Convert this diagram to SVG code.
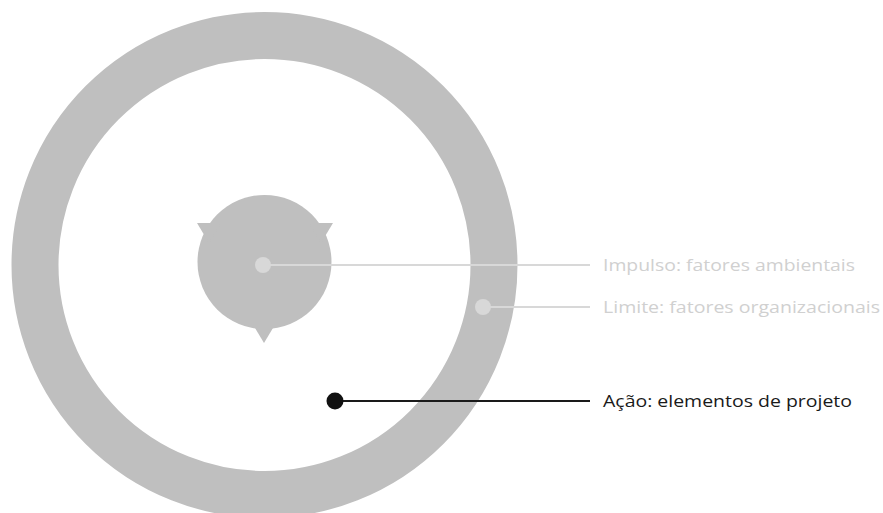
<svg xmlns="http://www.w3.org/2000/svg" width="883" height="513" viewBox="0 0 883 513">
<style>
.shape{fill:#bfbfbf}
.gline{stroke:#d8d8d8;stroke-width:2;fill:none}
.kline{stroke:#1a1a1a;stroke-width:2;fill:none}
.gdot{fill:#d8d8d8}
.kdot{fill:#111111}
.lbl{font-family:"Open Sans","Noto Sans","Liberation Sans",sans-serif;font-size:17px}
.glbl{fill:#d0d0d0}
.klbl{fill:#1a1a1a}
</style>
<rect width="883" height="513" fill="#ffffff"/>
<g id="limite">
<circle cx="264.5" cy="265" r="229.5" fill="none" stroke="#bfbfbf" stroke-width="47"/>
</g>
<g id="impulso">
<circle class="shape" cx="264.5" cy="262" r="67"/>
<polygon class="shape" points="197,223 221,223 209,243"/>
<polygon class="shape" points="309,223 333,223 321,243"/>
<polygon class="shape" points="255,328 273,328 264,343"/>
</g>
<g id="connectors">
<line class="gline" x1="263" y1="265" x2="590" y2="265"/>
<line class="gline" x1="483" y1="307" x2="590" y2="307"/>
<line class="kline" x1="335" y1="401" x2="590" y2="401"/>
</g>
<g id="dots">
<circle class="gdot" cx="263" cy="265" r="8"/>
<circle class="gdot" cx="483" cy="307" r="8"/>
<circle class="kdot" cx="335" cy="401" r="8.5"/>
</g>
<g id="label-impulso">
<text class="lbl glbl" x="603" y="271" textLength="252" lengthAdjust="spacingAndGlyphs">Impulso: fatores ambientais</text>
</g>
<g id="label-limite">
<text class="lbl glbl" x="603" y="313" textLength="277" lengthAdjust="spacingAndGlyphs">Limite: fatores organizacionais</text>
</g>
<g id="label-acao">
<text class="lbl klbl" x="603" y="407" textLength="249" lengthAdjust="spacingAndGlyphs">Ação: elementos de projeto</text>
</g>
</svg>
